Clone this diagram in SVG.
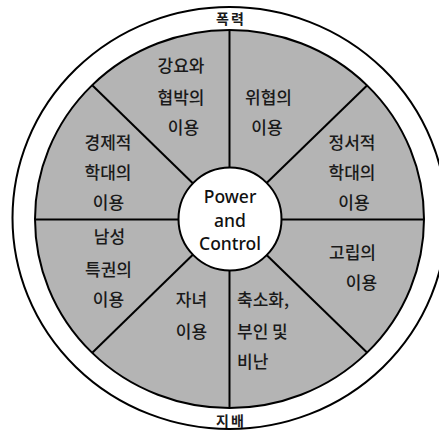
<svg xmlns="http://www.w3.org/2000/svg" width="439" height="431" viewBox="0 0 439 431">
  <style>
    .ring { fill: #ffffff; stroke: #000000; stroke-width: 2; }
    .wheel { fill: #b4b4b4; stroke: #000000; stroke-width: 2; }
    .hub { fill: #ffffff; stroke: #000000; stroke-width: 2; }
    .spoke { stroke: #000000; stroke-width: 2; fill: none; }
    .lbl { font-family: "Noto Sans CJK KR", "Noto Sans", sans-serif; font-size: 17px; font-weight: 500; fill: #1a1a1a; text-anchor: middle; }
    .lbl-l { text-anchor: start; }
    .rim { font-family: "Noto Sans CJK KR", "Noto Sans", sans-serif; font-size: 14px; font-weight: bold; fill: #1a1a1a; text-anchor: middle; letter-spacing: 2px; }
    .core { font-family: "Noto Sans", "Open Sans", sans-serif; font-size: 17.5px; font-weight: 500; fill: #111111; text-anchor: middle; }
  </style>

  <!-- outer ring: violence -->
  <g id="ring">
    <ellipse class="ring" cx="229.5" cy="218" rx="217" ry="211"/>
    <text class="rim" x="231" y="24">폭력</text>
    <text class="rim" x="231" y="426">지배</text>
  </g>

  <!-- shaded wheel -->
  <g id="wheel">
    <ellipse class="wheel" cx="229.5" cy="219" rx="194.5" ry="189"/>
  </g>

  <!-- dividers between the eight tactics -->
  <g id="connectors">
    <line class="spoke" x1="229.5" y1="30" x2="229.5" y2="219"/>
    <line class="spoke" x1="229.5" y1="408" x2="229.5" y2="219"/>
    <line class="spoke" x1="35" y1="219.5" x2="229.5" y2="219.5"/>
    <line class="spoke" x1="424" y1="219.5" x2="229.5" y2="219.5"/>
    <line class="spoke" x1="92.5" y1="85.5" x2="229.5" y2="219"/>
    <line class="spoke" x1="367" y1="85.5" x2="229.5" y2="219"/>
    <line class="spoke" x1="92.5" y1="352.5" x2="229.5" y2="219"/>
    <line class="spoke" x1="367" y1="352.5" x2="229.5" y2="219"/>
  </g>

  <!-- hub -->
  <g id="hub">
    <circle class="hub" cx="230" cy="219" r="51.5"/>
    <text class="core" x="230" y="203">Power</text>
    <text class="core" x="230" y="227">and</text>
    <text class="core" x="230" y="250">Control</text>
  </g>

  <!-- tactic labels -->
  <g id="coercion">
    <text class="lbl" x="181" y="72">강요와</text>
    <text class="lbl" x="181" y="104">협박의</text>
    <text class="lbl" x="183.5" y="134">이용</text>
  </g>
  <g id="intimidation">
    <text class="lbl" x="268.5" y="104">위협의</text>
    <text class="lbl" x="267" y="134">이용</text>
  </g>
  <g id="economic">
    <text class="lbl" x="108" y="149">경제적</text>
    <text class="lbl" x="108" y="179">학대의</text>
    <text class="lbl" x="108.5" y="209">이용</text>
  </g>
  <g id="emotional">
    <text class="lbl" x="352" y="149">정서적</text>
    <text class="lbl" x="352" y="179">학대의</text>
    <text class="lbl" x="354" y="209">이용</text>
  </g>
  <g id="privilege">
    <text class="lbl" x="109.5" y="243">남성</text>
    <text class="lbl" x="108.5" y="276">특권의</text>
    <text class="lbl" x="108.5" y="306">이용</text>
  </g>
  <g id="isolation">
    <text class="lbl" x="352.5" y="259">고립의</text>
    <text class="lbl" x="361.5" y="289">이용</text>
  </g>
  <g id="children">
    <text class="lbl" x="191.5" y="306">자녀</text>
    <text class="lbl" x="191.5" y="338">이용</text>
  </g>
  <g id="minimizing">
    <text class="lbl lbl-l" x="237" y="306">축소화,</text>
    <text class="lbl lbl-l" x="237" y="338">부인 및</text>
    <text class="lbl lbl-l" x="237" y="368">비난</text>
  </g>
</svg>
